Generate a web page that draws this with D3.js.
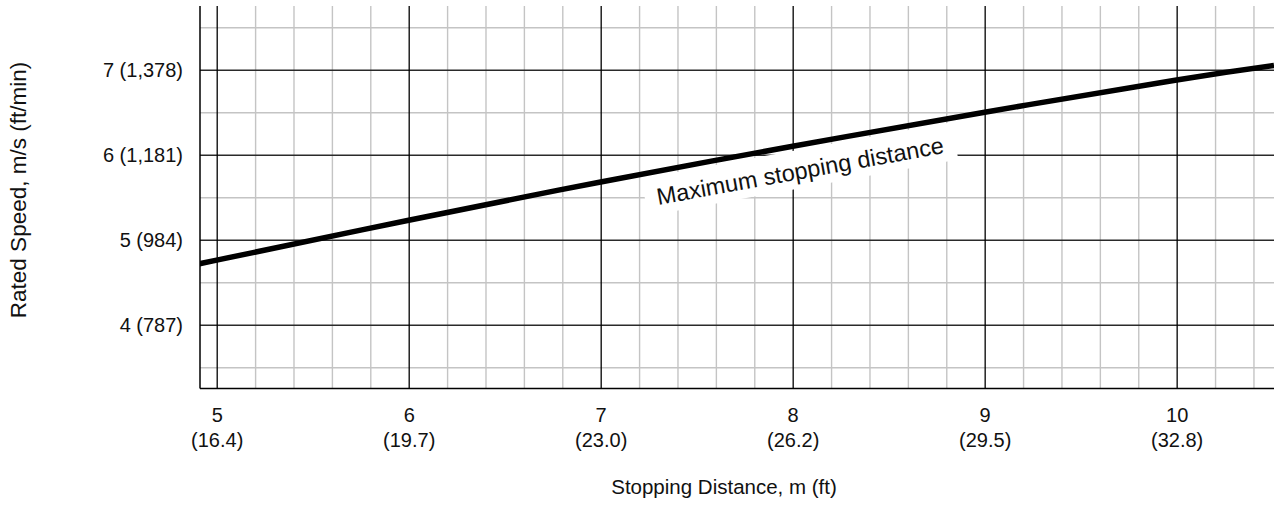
<!DOCTYPE html>
<html>
<head>
<meta charset="utf-8">
<script src="https://cdn.jsdelivr.net/npm/d3@7"></script>
<style>
  body { margin: 0; background: #fff; }
  svg { display: block; font-family: "Liberation Sans", Arial, sans-serif; }
  .axis text { font-size: 20px; fill: #111; }
  .axis .domain { display: none; }
</style>
</head>
<body>
<div id="chart"></div>
<script>
// data
const distances = [4.913, 5, 6, 7, 8, 9, 10, 10.507];
const speeds    = [4.72, 4.76, 5.23, 5.68, 6.10, 6.50, 6.88, 7.05];

const xTicks = [5, 6, 7, 8, 9, 10];
const xTickFeet = ['16.4', '19.7', '23.0', '26.2', '29.5', '32.8'];
const yTicks = [4, 5, 6, 7];
const yTickLabels = ['4 (787)', '5 (984)', '6 (1,181)', '7 (1,378)'];
const xMinor = [5.2, 5.4, 5.6, 5.8, 6.2, 6.4, 6.6, 6.8, 7.2, 7.4, 7.6, 7.8,
  8.2, 8.4, 8.6, 8.8, 9.2, 9.4, 9.6, 9.8, 10.2, 10.4];
const yMinor = [3.5, 4.5, 5.5, 6.5, 7.5];

const curveLabel = 'Maximum stopping distance';
const labelAt = { d: 7.3, v: 5.41 };

// dimensions
const WIDTH = 1274;
const HEIGHT = 506;
const MARGIN_TOP = 6;
const MARGIN_LEFT = 200;
const MARGIN_RIGHT = 0;
const PLOT_BOTTOM = 388.5;

const x = d3.scaleLinear()
  .domain([4.913, 10.507])
  .range([MARGIN_LEFT, WIDTH - MARGIN_RIGHT]);

const y = d3.scaleLinear()
  .domain([3.25, 7.75])
  .range([PLOT_BOTTOM, MARGIN_TOP]);

const $svg = d3.select('#chart').append('svg')
  .attr('width', WIDTH)
  .attr('height', HEIGHT);

$svg.append('clipPath').attr('id', 'plot-clip')
  .append('rect')
  .attr('x', MARGIN_LEFT).attr('y', MARGIN_TOP)
  .attr('width', WIDTH - MARGIN_LEFT).attr('height', PLOT_BOTTOM - MARGIN_TOP);

const $grid = $svg.append('g').attr('class', 'grid');

// minor grid
$grid.append('g')
  .attr('transform', `translate(0,${PLOT_BOTTOM})`)
  .call(d3.axisBottom(x).tickValues(xMinor).tickSize(-(PLOT_BOTTOM - MARGIN_TOP)).tickFormat(''))
  .call(g => g.select('.domain').remove())
  .call(g => g.selectAll('line').attr('stroke', '#c4c4c4').attr('stroke-width', 1.4));

$grid.append('g')
  .attr('transform', `translate(${MARGIN_LEFT},0)`)
  .call(d3.axisLeft(y).tickValues(yMinor).tickSize(-(WIDTH - MARGIN_LEFT)).tickFormat(''))
  .call(g => g.select('.domain').remove())
  .call(g => g.selectAll('line').attr('stroke', '#c4c4c4').attr('stroke-width', 1.4));

// major grid
$grid.append('g')
  .attr('transform', `translate(${MARGIN_LEFT},0)`)
  .call(d3.axisLeft(y).tickValues(yTicks).tickSize(-(WIDTH - MARGIN_LEFT)).tickFormat(''))
  .call(g => g.select('.domain').remove())
  .call(g => g.selectAll('line').attr('stroke', '#2a2a2a').attr('stroke-width', 1.3));

$grid.append('g')
  .attr('transform', `translate(0,${PLOT_BOTTOM})`)
  .call(d3.axisBottom(x).tickValues(xTicks).tickSize(-(PLOT_BOTTOM - MARGIN_TOP)).tickFormat(''))
  .call(g => g.select('.domain').remove())
  .call(g => g.selectAll('line').attr('stroke', '#000').attr('stroke-width', 1.3));

// axis frame
$svg.append('line')
  .attr('x1', MARGIN_LEFT).attr('x2', MARGIN_LEFT)
  .attr('y1', MARGIN_TOP).attr('y2', PLOT_BOTTOM)
  .attr('stroke', '#000').attr('stroke-width', 1.5);
$svg.append('line')
  .attr('x1', MARGIN_LEFT).attr('x2', WIDTH)
  .attr('y1', PLOT_BOTTOM).attr('y2', PLOT_BOTTOM)
  .attr('stroke', '#000').attr('stroke-width', 1.5);

// label with white box behind it, rotated along the curve
const line = d3.line()
  .x((d, i) => x(distances[i]))
  .y((d, i) => y(speeds[i]))
  .curve(d3.curveNatural);

const p0 = [x(7), y(5.68)];
const p1 = [x(9), y(6.50)];
const angle = Math.atan2(p1[1] - p0[1], p1[0] - p0[0]) * 180 / Math.PI;

const $label = $svg.append('g')
  .attr('transform', `translate(${x(labelAt.d)},${y(labelAt.v)}) rotate(${angle})`);
const $labelBox = $label.append('rect').attr('fill', '#fff');
const $labelText = $label.append('text')
  .attr('font-size', 23.5)
  .attr('fill', '#111')
  .text(curveLabel);
const bb = $labelText.node().getBBox();
$labelBox
  .attr('x', bb.x - 12).attr('y', bb.y - 8)
  .attr('width', bb.width + 24).attr('height', bb.height + 12);

// the curve
$svg.append('path')
  .datum(distances)
  .attr('clip-path', 'url(#plot-clip)')
  .attr('d', line)
  .attr('fill', 'none')
  .attr('stroke', '#000')
  .attr('stroke-width', 5.5);

// x axis labels
const $xAxis = $svg.append('g')
  .attr('class', 'axis')
  .attr('transform', `translate(0,${PLOT_BOTTOM})`)
  .call(d3.axisBottom(x).tickValues(xTicks).tickSize(0).tickFormat(''));
$xAxis.selectAll('.tick').append('text')
  .attr('text-anchor', 'middle')
  .attr('y', 33.5)
  .text(d => d);
$xAxis.selectAll('.tick').append('text')
  .attr('text-anchor', 'middle')
  .attr('y', 58)
  .text((d, i) => `(${xTickFeet[i]})`);

// y axis labels
const $yAxis = $svg.append('g')
  .attr('class', 'axis')
  .attr('transform', `translate(${MARGIN_LEFT},0)`)
  .call(d3.axisLeft(y).tickValues(yTicks).tickSize(0).tickPadding(17)
    .tickFormat((d, i) => yTickLabels[i]));
$yAxis.selectAll('text').attr('dy', '0.36em');

// titles
$svg.append('text')
  .attr('class', 'axis-title')
  .attr('x', 724)
  .attr('y', 494)
  .attr('text-anchor', 'middle')
  .attr('font-size', 20.5)
  .attr('fill', '#111')
  .text('Stopping Distance, m (ft)');

$svg.append('text')
  .attr('transform', `translate(26,190) rotate(-90)`)
  .attr('text-anchor', 'middle')
  .attr('font-size', 22.5)
  .attr('fill', '#111')
  .text('Rated Speed, m/s (ft/min)');
</script>
</body>
</html>
